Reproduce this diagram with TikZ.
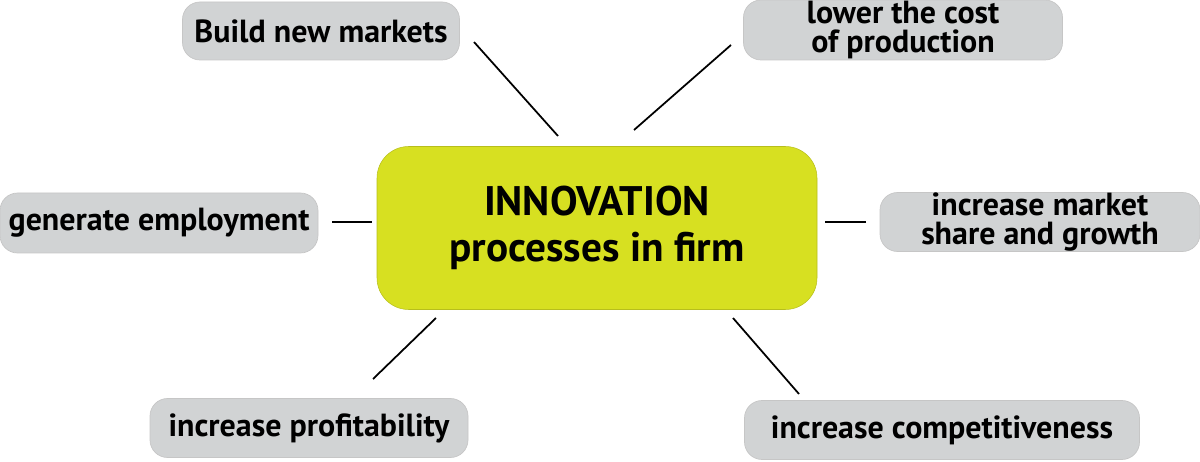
\documentclass[tikz,border=0pt]{standalone}
\usepackage{fontspec}
\setmainfont{PT Sans}
\usepackage{xcolor}
\definecolor{boxgray}{HTML}{D1D3D4}
\definecolor{limeyellow}{HTML}{D7E021}

\begin{document}
\begin{tikzpicture}[x=0.02cm,y=-0.02cm,
  goal/.style={fill=boxgray, draw=gray!45, line width=0.4pt, rounded corners=10pt,
    inner sep=0pt, align=center, font=\fontsize{18.2}{16}\selectfont\bfseries},
  core/.style={fill=limeyellow, draw=limeyellow!85!black, line width=0.3pt, rounded corners=18pt,
    inner sep=0pt, align=center, font=\fontsize{23.5}{26}\selectfont\bfseries},
  link/.style={black, line width=1pt}]
\useasboundingbox (0,0) rectangle (1200,462);

\node [core, minimum width=440*0.02cm, minimum height=163*0.02cm] (innov) at (597,228) {INNOVATION\\processes in firm};

\node [goal, minimum width=277*0.02cm, minimum height=58*0.02cm] (markets) at (321,31) {Build new markets};
\node [goal, minimum width=319*0.02cm, minimum height=60*0.02cm] (cost) at (903,30) {lower the cost\\of production};
\node [goal, minimum width=318*0.02cm, minimum height=60*0.02cm] (employ) at (159,223) {generate employment};
\node [goal, minimum width=320*0.02cm, minimum height=59*0.02cm] (share) at (1040,222) {increase market\\share and growth};
\node [goal, minimum width=318*0.02cm, minimum height=59*0.02cm] (profit) at (309,428) {increase profitability};
\node [goal, minimum width=395*0.02cm, minimum height=59*0.02cm] (compet) at (942,430) {increase competitiveness};

% end points of the spokes
\coordinate (markets-a) at (474,42);  \coordinate (markets-b) at (558,136);
\coordinate (cost-a) at (731,45);     \coordinate (cost-b) at (634,130);
\coordinate (employ-a) at (332,222);  \coordinate (employ-b) at (372,222);
\coordinate (share-a) at (866,222);   \coordinate (share-b) at (825,222);
\coordinate (profit-a) at (373,379);  \coordinate (profit-b) at (436,318);
\coordinate (compet-a) at (799,394);  \coordinate (compet-b) at (733,318);

\draw [link] (markets-a) -- (markets-b);
\draw [link] (cost-a) -- (cost-b);
\draw [link] (employ-a) -- (employ-b);
\draw [link] (share-a) -- (share-b);
\draw [link] (profit-a) -- (profit-b);
\draw [link] (compet-a) -- (compet-b);

\end{tikzpicture}
\end{document}
